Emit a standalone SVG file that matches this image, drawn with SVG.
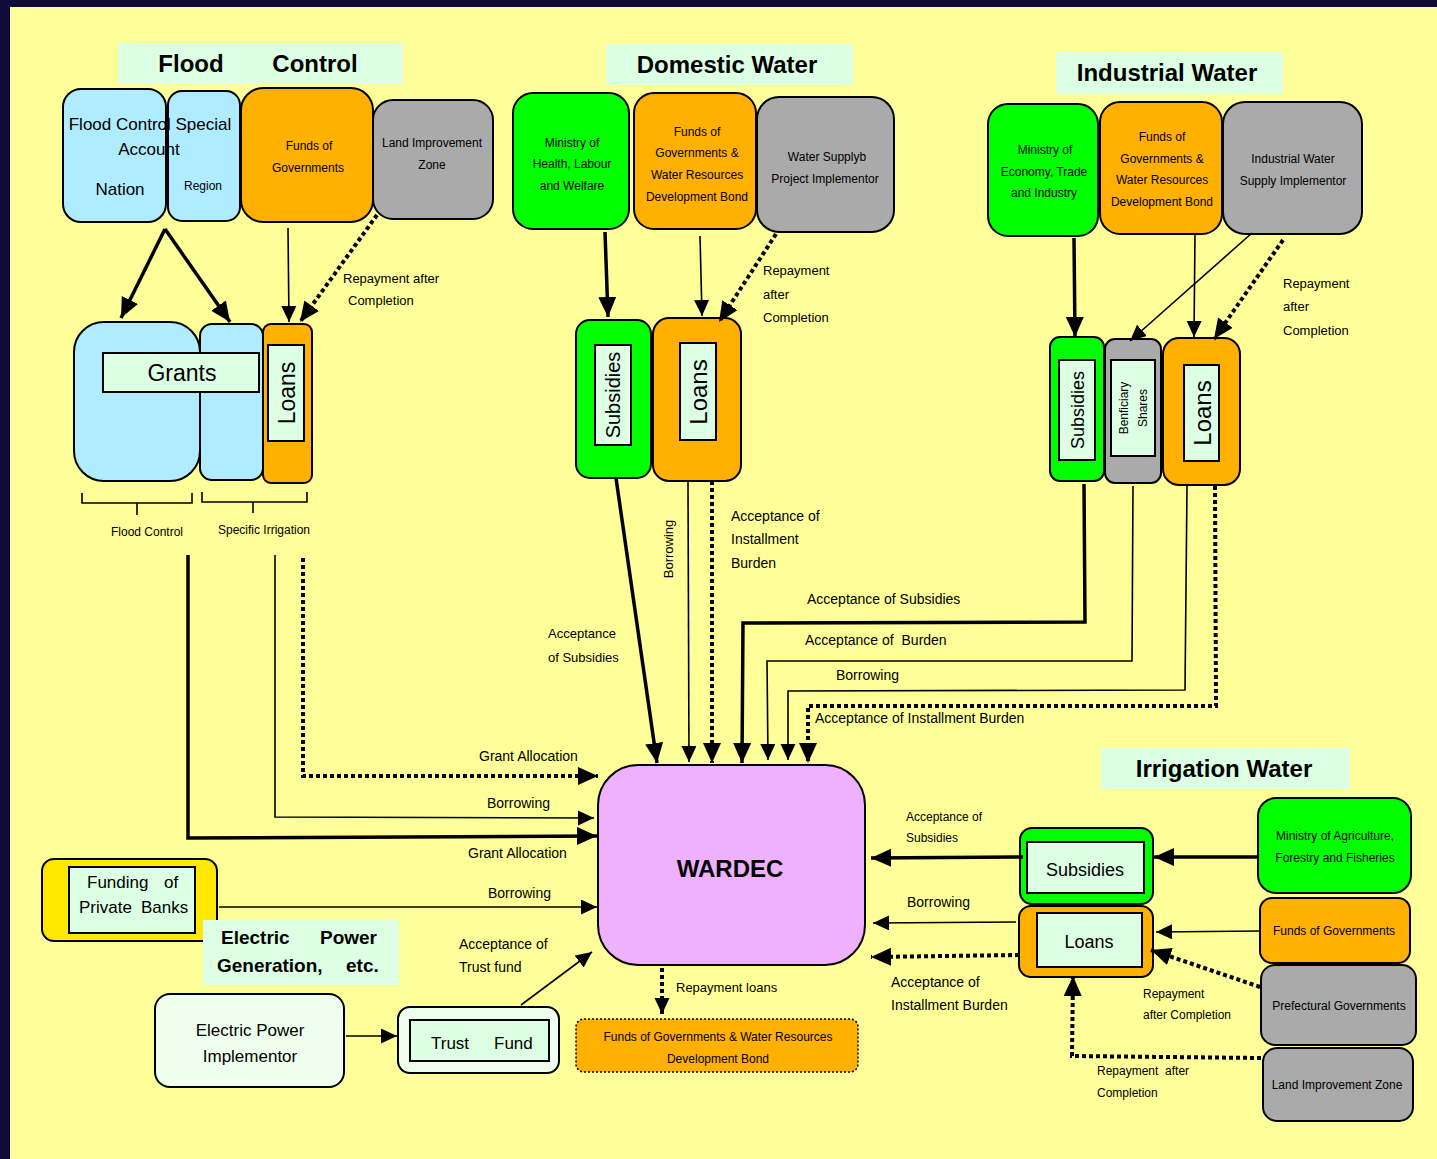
<svg xmlns="http://www.w3.org/2000/svg" width="1437" height="1159" viewBox="0 0 1437 1159">
<style>
text{font-family:"Liberation Sans",Arial,sans-serif;fill:#000;}
.c{text-anchor:middle;}
.t12{font-size:12px;}
.t13{font-size:13px;}
.t14{font-size:14px;}
.t17{font-size:17px;}
.ttl{font-size:24px;font-weight:bold;text-anchor:middle;}
.box{stroke:#000;stroke-width:2;}
.blue{fill:#B0ECFF;}
.orange{fill:#FFB000;}
.gray{fill:#AAAAAA;}
.green{fill:#00FF00;}
.mint{fill:#DDFFE3;}
.pale{fill:#EEFFEE;}
.inner{fill:#DDFFE3;stroke:#000;stroke-width:2;}
.titlebox{fill:#DDFFE3;}
.thick{fill:none;stroke:#000;stroke-width:3.5;}
.thin{fill:none;stroke:#000;stroke-width:1.6;}
.dot{fill:none;stroke:#000;stroke-width:4;stroke-dasharray:4 3;}
.rot{text-anchor:middle;dominant-baseline:central;}
</style>
<defs>
<marker id="big" markerUnits="userSpaceOnUse" markerWidth="22" markerHeight="20" refX="20" refY="9" orient="auto">
<path d="M0,0 L20,9 L0,18 z" fill="#000"/>
</marker>
<marker id="sm" markerUnits="userSpaceOnUse" markerWidth="18" markerHeight="16" refX="16" refY="7.5" orient="auto">
<path d="M0,0 L16,7.5 L0,15 z" fill="#000"/>
</marker>
</defs>
<rect x="0" y="0" width="1437" height="1159" fill="#100A3A"/>
<rect x="10" y="7" width="1427" height="1152" fill="#FFFF99"/>

<!-- Flood Control -->
<g id="title-flood">
<rect class="titlebox" x="118" y="43" width="285" height="41"/>
<text class="ttl" x="260" y="72"><tspan x="191">Flood</tspan><tspan x="315">Control</tspan></text>
</g>
<g id="fc-nation">
<rect class="box blue" x="63" y="89" width="103" height="133" rx="18"/>
</g>
<g id="fc-region">
<rect class="box blue" x="168" y="91" width="72" height="130" rx="14"/>
<text class="t12 c" x="203" y="190">Region</text>
</g>
<g id="fc-labels">
<text class="t17 c" x="150" y="130">Flood Control Special</text>
<text class="t17 c" x="149" y="155">Account</text>
<text class="t17 c" x="120" y="195">Nation</text>
</g>
<g id="fc-funds">
<rect class="box orange" x="241" y="88" width="132" height="134" rx="22"/>
<text class="t12 c" x="309" y="150">Funds of</text>
<text class="t12 c" x="308" y="172">Governments</text>
</g>
<g id="fc-land">
<rect class="box gray" x="373" y="100" width="120" height="119" rx="20"/>
<text class="t12 c" x="432" y="147">Land Improvement</text>
<text class="t12 c" x="432" y="169">Zone</text>
</g>
<g id="fc-grants">
<rect class="box blue" x="74" y="322" width="126" height="159" rx="30"/>
<rect class="box blue" x="200" y="324" width="63" height="156" rx="12"/>
<rect class="inner" x="103" y="353" width="156" height="39"/>
<text class="c" x="182" y="381" font-size="23">Grants</text>
</g>
<g id="fc-loans">
<rect class="box orange" x="263" y="324" width="49" height="159" rx="8"/>
<rect class="inner" x="268" y="345" width="36" height="96"/>
<text class="rot" x="287" y="393" font-size="23" transform="rotate(-90 287 393)">Loans</text>
</g>
<g id="fc-brackets">
<path class="thin" d="M82,493 V503 H192 V493 M137,503 V515 M202,492 V502 H307 V492 M253,502 V513"/>
<text class="t12 c" x="147" y="536">Flood Control</text>
<text class="t12 c" x="264" y="534">Specific Irrigation</text>
</g>

<!-- Domestic Water -->
<g id="title-domestic">
<rect class="titlebox" x="606" y="44" width="247" height="41"/>
<text class="ttl" x="727" y="73">Domestic Water</text>
</g>
<g id="dw-ministry">
<rect class="box green" x="513" y="93" width="116" height="136" rx="20"/>
<text class="t12 c" x="572" y="147">Ministry of</text>
<text class="t12 c" x="572" y="168">Health, Labour</text>
<text class="t12 c" x="572" y="190">and Welfare</text>
</g>
<g id="dw-funds">
<rect class="box orange" x="634" y="93" width="122" height="136" rx="20"/>
<text class="t12 c" x="697" y="136">Funds of</text>
<text class="t12 c" x="697" y="157">Governments &amp;</text>
<text class="t12 c" x="697" y="179">Water Resources</text>
<text class="t12 c" x="697" y="201">Development Bond</text>
</g>
<g id="dw-impl">
<rect class="box gray" x="757" y="97" width="137" height="135" rx="22"/>
<text class="t12 c" x="827" y="161">Water Supplyb</text>
<text class="t12 c" x="825" y="183">Project Implementor</text>
</g>
<g id="dw-subsidies">
<rect class="box green" x="576" y="320" width="75" height="158" rx="14"/>
<rect class="inner" x="595" y="345" width="36" height="100"/>
<text class="rot" x="613" y="395" font-size="20" transform="rotate(-90 613 395)">Subsidies</text>
</g>
<g id="dw-loans">
<rect class="box orange" x="653" y="318" width="88" height="163" rx="16"/>
<rect class="inner" x="680" y="343" width="36" height="97"/>
<text class="rot" x="698" y="392" font-size="24" transform="rotate(-90 698 392)">Loans</text>
</g>

<!-- Industrial Water -->
<g id="title-industrial">
<rect class="titlebox" x="1056" y="52" width="227" height="42"/>
<text class="ttl" x="1167" y="81">Industrial Water</text>
</g>
<g id="iw-ministry">
<rect class="box green" x="988" y="104" width="110" height="132" rx="20"/>
<text class="t12 c" x="1045" y="154">Ministry of</text>
<text class="t12 c" x="1044" y="176">Economy, Trade</text>
<text class="t12 c" x="1044" y="197">and Industry</text>
</g>
<g id="iw-funds">
<rect class="box orange" x="1100" y="102" width="122" height="132" rx="20"/>
<text class="t12 c" x="1162" y="141">Funds of</text>
<text class="t12 c" x="1162" y="163">Governments &amp;</text>
<text class="t12 c" x="1162" y="184">Water Resources</text>
<text class="t12 c" x="1162" y="206">Development Bond</text>
</g>
<g id="iw-impl">
<rect class="box gray" x="1223" y="102" width="139" height="132" rx="22"/>
<text class="t12 c" x="1293" y="163">Industrial Water</text>
<text class="t12 c" x="1293" y="185">Supply Implementor</text>
</g>
<g id="iw-subsidies">
<rect class="box green" x="1050" y="337" width="54" height="144" rx="10"/>
<rect class="inner" x="1059" y="360" width="36" height="100"/>
<text class="rot" x="1078" y="410" font-size="18" transform="rotate(-90 1078 410)">Subsidies</text>
</g>
<g id="iw-shares">
<rect class="box gray" x="1105" y="339" width="56" height="144" rx="10"/>
<rect class="inner" x="1111" y="360" width="44" height="96"/>
<text class="rot t12" x="1124" y="408" transform="rotate(-90 1124 408)">Benficiary</text>
<text class="rot t12" x="1143" y="408" transform="rotate(-90 1143 408)">Shares</text>
</g>
<g id="iw-loans">
<rect class="box orange" x="1163" y="338" width="77" height="147" rx="16"/>
<rect class="inner" x="1184" y="365" width="35" height="96"/>
<text class="rot" x="1202" y="413" font-size="24" transform="rotate(-90 1202 413)">Loans</text>
</g>

<!-- WARDEC -->
<g id="wardec">
<rect class="box" fill="#EEB0FF" x="598" y="765" width="267" height="200" rx="40"/>
<text x="730" y="877" font-size="24" font-weight="bold" text-anchor="middle">WARDEC</text>
</g>
<g id="bond">
<rect fill="#FFB000" stroke="#000" stroke-width="1.5" stroke-dasharray="2 2" x="576" y="1019" width="282" height="53" rx="8"/>
<text class="t12 c" x="718" y="1041">Funds of Governments &amp; Water Resources</text>
<text class="t12 c" x="718" y="1063">Development Bond</text>
</g>

<!-- Private banks / electric -->
<g id="private-banks">
<rect class="box" fill="#FFE800" x="42" y="859" width="175" height="82" rx="12"/>
<rect class="inner" x="69" y="867" width="126" height="66"/>
<text class="t17" x="87" y="888">Funding</text><text class="t17" x="164" y="888">of</text>
<text class="t17" x="79" y="913">Private</text><text class="t17" x="141" y="913">Banks</text>
</g>
<g id="title-electric">
<rect class="titlebox" x="203" y="920" width="196" height="65"/>
<text x="221" y="944" font-size="19" font-weight="bold">Electric<tspan x="320">Power</tspan></text>
<text x="217" y="972" font-size="19" font-weight="bold">Generation,<tspan x="346">etc.</tspan></text>
</g>
<g id="ep-impl">
<rect class="box pale" x="155" y="994" width="189" height="93" rx="15"/>
<text class="t17 c" x="250" y="1036">Electric Power</text>
<text class="t17 c" x="250" y="1062">Implementor</text>
</g>
<g id="trust-fund">
<rect class="box pale" x="398" y="1007" width="161" height="66" rx="12"/>
<rect class="inner" x="410" y="1020" width="139" height="41"/>
<text class="t17" x="431" y="1049">Trust</text><text class="t17" x="494" y="1049">Fund</text>
</g>

<!-- Irrigation -->
<g id="title-irrigation">
<rect class="titlebox" x="1101" y="748" width="249" height="41"/>
<text class="ttl" x="1224" y="777">Irrigation Water</text>
</g>
<g id="ir-ministry">
<rect class="box green" x="1258" y="798" width="153" height="95" rx="18"/>
<text class="t12 c" x="1335" y="840">Ministry of Agriculture,</text>
<text class="t12 c" x="1335" y="862">Forestry and Fisheries</text>
</g>
<g id="ir-funds">
<rect class="box orange" x="1260" y="898" width="150" height="65" rx="12"/>
<text class="t12 c" x="1334" y="935">Funds of Governments</text>
</g>
<g id="ir-pref">
<rect class="box gray" x="1261" y="965" width="155" height="80" rx="14"/>
<text class="t12 c" x="1339" y="1010">Prefectural Governments</text>
</g>
<g id="ir-land">
<rect class="box gray" x="1263" y="1048" width="150" height="73" rx="14"/>
<text class="t12 c" x="1337" y="1089">Land Improvement Zone</text>
</g>
<g id="ir-subsidies">
<rect class="box green" x="1020" y="828" width="133" height="76" rx="12" stroke-width="2.5"/>
<rect class="inner" x="1027" y="842" width="117" height="51"/>
<text class="c" x="1085" y="876" font-size="18">Subsidies</text>
</g>
<g id="ir-loans">
<rect class="box orange" x="1019" y="906" width="134" height="71" rx="12"/>
<rect class="inner" x="1037" y="913" width="105" height="54"/>
<text class="c" x="1089" y="948" font-size="18">Loans</text>
</g>

<!-- Connectors -->
<g id="connectors">
<path class="thick" d="M165,229 L121,318" marker-end="url(#big)"/>
<path class="thick" d="M165,229 L230,322" marker-end="url(#big)"/>
<path class="thin" d="M288,228 L289,322" marker-end="url(#sm)"/>
<path class="dot" d="M377,215 L300,322" marker-end="url(#big)"/>

<path class="thick" d="M605,232 L608,317" marker-end="url(#big)"/>
<path class="thin" d="M700,236 L702,316" marker-end="url(#sm)"/>
<path class="dot" stroke-width="3" d="M776,234 L719,322" marker-end="url(#big)"/>

<path class="thick" d="M1074,238 L1075,337" marker-end="url(#big)"/>
<path class="thin" d="M1195,234 L1194,337" marker-end="url(#sm)"/>
<path class="thin" d="M1252,233 L1130,341" marker-end="url(#sm)"/>
<path class="dot" d="M1283,240 L1214,339" marker-end="url(#big)"/>

<path class="thick" d="M616,478 L657,763" marker-end="url(#big)"/>
<path class="thin" d="M688,481 L689,762" marker-end="url(#sm)"/>
<path class="dot" d="M712,481 L712,763" marker-end="url(#big)"/>
<path class="thick" d="M1084,484 L1085,622 L743,623 L742,763" marker-end="url(#big)"/>
<path class="thin" d="M1133,486 L1132,661 L767,661 L768,760" marker-end="url(#sm)"/>
<path class="thin" d="M1187,486 L1185,690 L788,691 L788,760" marker-end="url(#sm)"/>
<path class="dot" d="M1215,486 L1216,706 L808,706 L808,763" marker-end="url(#big)"/>

<path class="thick" d="M188,555 L188,838 L597,836" marker-end="url(#big)"/>
<path class="thin" d="M275,555 L275,817 L594,818" marker-end="url(#sm)"/>
<path class="dot" d="M303,558 L303,776 L598,776" marker-end="url(#big)"/>
<path class="thin" d="M219,907 L597,907" marker-end="url(#sm)"/>
<path class="thin" d="M346,1036 L397,1036" marker-end="url(#sm)"/>
<path class="thin" d="M521,1005 L592,952" marker-end="url(#sm)"/>
<path class="dot" stroke-width="3" stroke-dasharray="3 4" d="M662,968 L662,1014" marker-end="url(#sm)"/>

<path class="thick" d="M1258,857 L1154,857" marker-end="url(#big)"/>
<path class="thick" d="M1023,857 L871,858" marker-end="url(#big)"/>
<path class="thin" d="M1260,931 L1156,932" marker-end="url(#sm)"/>
<path class="thin" d="M1016,922 L873,923" marker-end="url(#sm)"/>
<path class="dot" d="M1019,955 L871,957" marker-end="url(#big)"/>
<path class="dot" d="M1260,987 L1151,950" marker-end="url(#big)"/>
<path class="dot" d="M1261,1058 L1072,1056 L1073,976" marker-end="url(#big)"/>
</g>

<!-- Connector labels -->
<g id="labels">
<text class="t13" x="343" y="283">Repayment after</text>
<text class="t13" x="348" y="305">Completion</text>
<text class="t13" x="763" y="275">Repayment</text>
<text class="t13" x="763" y="299">after</text>
<text class="t13" x="763" y="322">Completion</text>
<text class="t13" x="1283" y="288">Repayment</text>
<text class="t13" x="1283" y="311">after</text>
<text class="t13" x="1283" y="335">Completion</text>
<text class="t13" x="548" y="638">Acceptance</text>
<text class="t13" x="548" y="662">of Subsidies</text>
<text class="t13 rot" x="668" y="549" transform="rotate(-90 668 549)">Borrowing</text>
<text class="t14" x="731" y="521">Acceptance of</text>
<text class="t14" x="731" y="544">Installment</text>
<text class="t14" x="731" y="568">Burden</text>
<text class="t14" x="807" y="604">Acceptance of Subsidies</text>
<text class="t14" x="805" y="645">Acceptance of&#160; Burden</text>
<text class="t14" x="836" y="680">Borrowing</text>
<text class="t14" x="815" y="723">Acceptance of Installment Burden</text>
<text class="t14" x="479" y="761">Grant Allocation</text>
<text class="t14" x="487" y="808">Borrowing</text>
<text class="t14" x="468" y="858">Grant Allocation</text>
<text class="t14" x="488" y="898">Borrowing</text>
<text class="t14" x="459" y="949">Acceptance of</text>
<text class="t14" x="459" y="972">Trust fund</text>
<text class="t13" x="676" y="992">Repayment loans</text>
<text class="t12" x="906" y="821">Acceptance of</text>
<text class="t12" x="906" y="842">Subsidies</text>
<text class="t14" x="907" y="907">Borrowing</text>
<text class="t14" x="891" y="987">Acceptance of</text>
<text class="t14" x="891" y="1010">Installment Burden</text>
<text class="t12" x="1143" y="998">Repayment</text>
<text class="t12" x="1143" y="1019">after Completion</text>
<text class="t12" x="1097" y="1075">Repayment&#160; after</text>
<text class="t12" x="1097" y="1097">Completion</text>
</g>
</svg>
